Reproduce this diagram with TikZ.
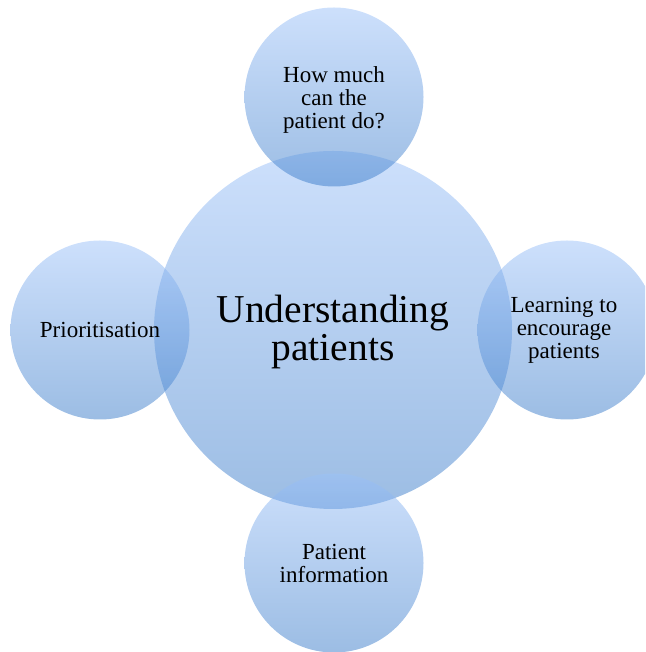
\documentclass[tikz,border=0pt]{standalone}
\usepackage{fontspec}
\setmainfont{Liberation Serif}
\definecolor{ctop}{RGB}{155,193,249}
\definecolor{cbot}{RGB}{57,123,201}
\tikzset{
  bubble/.style={circle, top color=ctop, bottom color=cbot, fill opacity=0.5, draw=none, inner sep=0pt},
  lbl/.style={align=center, text=black, font=\fontsize{23}{23}\selectfont},
  biglbl/.style={align=center, text=black, font=\fontsize{39.5}{38}\selectfont}
}
\begin{document}
\begin{tikzpicture}[x=1pt,y=1pt]
\useasboundingbox (0,0) rectangle (645,652);
\begin{scope}
\clip (0,0) rectangle (645,652);
\node[bubble, minimum size=358pt] (c) at (333,322) {};
\node[bubble, minimum size=179pt] (t) at (334,555) {};
\node[bubble, minimum size=179pt] (l) at (100,322) {};
\node[bubble, minimum size=179pt] (r) at (567,322) {};
\node[bubble, minimum size=179pt] (b) at (334,89) {};
\end{scope}
\node[biglbl] (ct) at ([yshift=-2pt]c.center) {Understanding\\patients};
\node[lbl] (tt) at ([yshift=-3pt]t.center) {How much\\can the\\patient do?};
\node[lbl] (lt) at (l.center) {Prioritisation};
\node[lbl] (rt) at ([xshift=-3pt]r.center) {Learning to\\encourage\\patients};
\node[lbl] (bt) at (b.center) {Patient\\information};
\end{tikzpicture}
\end{document}
